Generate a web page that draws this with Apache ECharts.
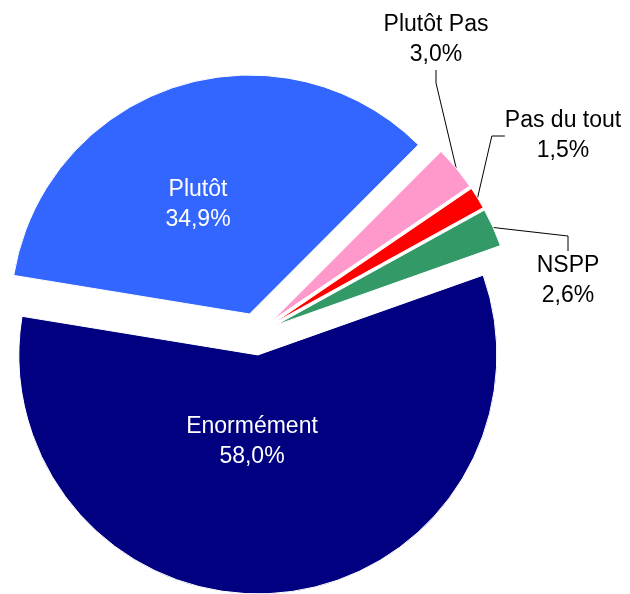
<!DOCTYPE html>
<html>
<head>
<meta charset="utf-8">
<style>
  html, body { margin: 0; padding: 0; background: #fff; }
  #chart { width: 630px; height: 594px; }
</style>
<script src="https://cdn.jsdelivr.net/npm/echarts@6/dist/echarts.min.js"></script>
</head>
<body>
<div id="chart"></div>
<script>
// données du camembert
const categories = ['Enormément', 'Plutôt', 'Plutôt Pas', 'Pas du tout', 'NSPP']
const values = [58.0, 34.9, 3.0, 1.5, 2.6]
const colors = ['#000080', '#3366FF', '#FF99CC', '#FF0000', '#339966']

// positions des étiquettes (centre du bloc de deux lignes)
const labelPos = [
  [252, 442],
  [198, 205],
  [436, 40],
  [563, 136],
  [568, 281],
]
// ligne vide sous l'étiquette NSPP pour que son trait arrive par le haut
const labelGap = [0, 0, 0, 0, 50]

const myChart = echarts.init(document.getElementById('chart'))

const fmt = (v) => v.toFixed(1).replace('.', ',') + '%'
const font = 'Liberation Sans, Arial, sans-serif'

// camembert éclaté : une série par part, centre décalé le long de sa bissectrice
const cx = 256
const cy = 334
const explode = 21
const startAngle = 19.5
const total = values.reduce((a, b) => a + b, 0)

const renderChart = () => {
  let cum = 0
  const series = values.map((v, k) => {
    const mid = startAngle - ((cum + v / 2) / total) * 360
    cum += v
    const rad = (mid * Math.PI) / 180
    const txtColor = k < 2 ? '#fff' : '#000'
    return {
      type: 'pie',
      center: [cx + explode * Math.cos(rad), cy - explode * Math.sin(rad)],
      radius: 239,
      startAngle: startAngle,
      clockwise: true,
      avoidLabelOverlap: false,
      silent: true,
      emphasis: { disabled: true },
      labelLine: {
        length: 0,
        length2: k === 4 ? 15 : 13,
        lineStyle: { color: '#000', width: 1 },
      },
      labelLayout: (p) =>
        p.dataIndex === k
          ? {
              x: labelPos[k][0],
              y: labelPos[k][1] + labelGap[k] / 2,
              align: 'center',
              verticalAlign: 'middle',
            }
          : {},
      data: categories.map((name, i) => ({
        name: name,
        value: values[i],
        itemStyle:
          i === k
            ? { color: colors[i], borderColor: '#fff', borderWidth: 1 }
            : { color: 'rgba(0,0,0,0)', borderWidth: 0 },
        label: {
          show: i === k,
          position: k < 2 ? 'inside' : 'outside',
          color: txtColor,
          fontFamily: font,
          fontSize: 23,
          lineHeight: 30,
          formatter: (p) =>
            labelGap[k]
              ? '{t|' + p.name + '}\n{t|' + fmt(p.value) + '}\n{g| }'
              : p.name + '\n' + fmt(p.value),
          rich: {
            t: { color: txtColor, fontFamily: font, fontSize: 23, lineHeight: 30 },
            g: { fontSize: 10, lineHeight: labelGap[k] || 10 },
          },
        },
        labelLine: { show: i === k && k >= 2 },
      })),
    }
  })
  myChart.setOption({ animation: false, series: series })
}

renderChart()
</script>
</body>
</html>
